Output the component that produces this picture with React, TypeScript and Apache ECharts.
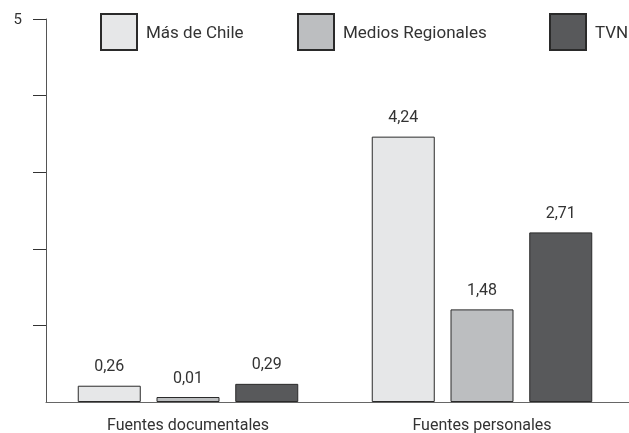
import React, { useEffect, useRef } from "react";
import * as echarts from "echarts";

const categories = ["Fuentes documentales", "Fuentes personales"];
const seriesNames = ["Más de Chile", "Medios Regionales", "TVN"];
const masDeChile = [0.26, 4.24];
const mediosRegionales = [0.01, 1.48];
const tvn = [0.29, 2.71];
const scaleMax = 6.12;
const tickMax = 5;
const tickValues = [1, 2, 3, 4, 5];
const labelValues = [5];

const colors = ["#e6e7e8", "#bcbec0", "#58595b"];
const FONT = "Roboto";

export default function App() {
  const ref = useRef<HTMLDivElement>(null);
  useEffect(() => {
    if (!ref.current) return;
    const chart = echarts.init(ref.current, undefined, { renderer: "svg" });
    const values = [masDeChile, mediosRegionales, tvn];
    const legendLefts = [100, 297, 549];
    chart.setOption({
      animation: false,
      textStyle: { fontFamily: FONT },
      grid: [
        { left: 41, right: -2, top: 19, bottom: 31 },
        { left: 46, right: -2, top: 19, bottom: 31 },
      ],
      legend: seriesNames.map((n, i) => ({
        data: [n],
        left: legendLefts[i],
        top: 13,
        padding: 0,
        itemWidth: 36,
        itemHeight: 36,
        icon: "rect",
        textStyle: { fontSize: 17, color: "#333", fontFamily: FONT, padding: [0, 0, 0, 4] },
        selectedMode: false,
      })),
      xAxis: [
        {
          type: "category",
          gridIndex: 0,
          data: categories,
          axisLine: { show: false },
          axisTick: { show: false },
          axisLabel: { fontSize: 16, color: "#333", margin: 14, fontFamily: FONT },
        },
        {
          type: "category",
          gridIndex: 1,
          data: categories,
          axisLine: { show: true, lineStyle: { color: "#666", width: 1 } },
          axisTick: { show: false },
          axisLabel: { show: false },
        },
      ],
      yAxis: [
        { type: "value", gridIndex: 0, min: 0, max: scaleMax, show: false },
        {
          type: "value",
          gridIndex: 1,
          min: 0,
          max: tickMax,
          interval: 1,
          position: "left",
          axisLine: { show: true, lineStyle: { color: "#555", width: 1 } },
          axisTick: { show: true, length: 13, customValues: tickValues, lineStyle: { color: "#333" } },
          axisLabel: {
            fontSize: 15,
            color: "#333",
            margin: 24,
            fontFamily: FONT,
            customValues: labelValues,
          },
          splitLine: { show: false },
        },
      ],
      series: seriesNames.map((n, i) => ({
        name: n,
        type: "bar",
        xAxisIndex: 0,
        yAxisIndex: 0,
        data: values[i],
        barWidth: 63,
        barGap: "25%",
        barMinHeight: 5,
        itemStyle: { color: colors[i], borderColor: "#2a2a2a", borderWidth: 1 },
        label: {
          show: true,
          position: "top",
          distance: 12,
          fontSize: 16,
          color: "#333",
          fontFamily: FONT,
          formatter: (p: any) => Number(p.value).toFixed(2).replace(".", ","),
        },
      })),
    });
    return () => chart.dispose();
  }, []);
  return (
    <div
      ref={ref}
      style={{ position: "fixed", left: 0, top: 0, width: 629, height: 433 }}
    />
  );
}
